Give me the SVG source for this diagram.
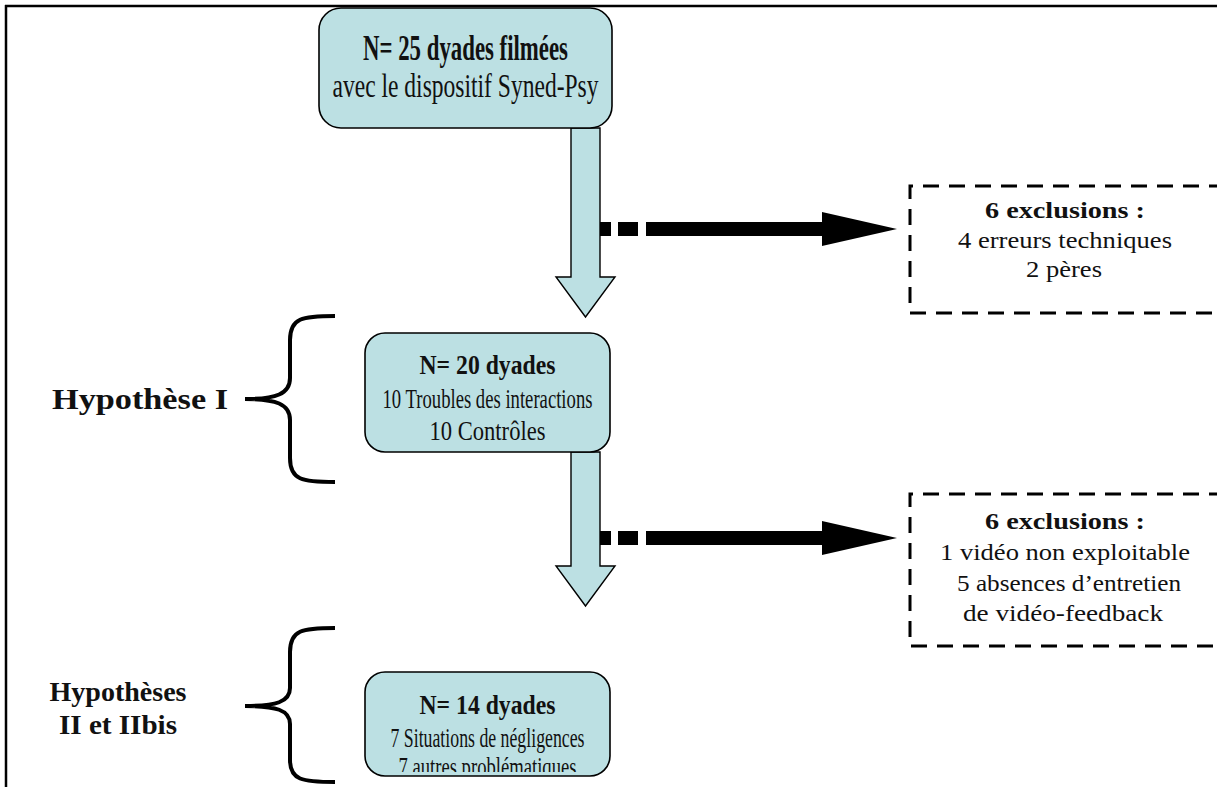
<svg xmlns="http://www.w3.org/2000/svg" width="1217" height="787" viewBox="0 0 1217 787">
<defs>
<style>
.box{fill:#BCE0E3;stroke:#000;stroke-width:1.6}
.shaft{fill:#BCE0E3;stroke:#000;stroke-width:1.4;stroke-linejoin:miter}
.dash{fill:#fff;stroke:#000;stroke-width:3;stroke-dasharray:16 10}
.brace{fill:none;stroke:#000;stroke-width:4;stroke-linecap:butt}
.t{font-family:"Liberation Serif","Times New Roman",serif;fill:#111;text-anchor:middle}
.b{font-weight:bold}
</style>
<clipPath id="clipBottom"><rect x="365" y="672" width="245" height="100"/></clipPath>
</defs>
<rect width="1217" height="787" fill="#fff"/>
<g id="frame" fill="none" stroke="#000" stroke-width="2.5">
<line x1="5" y1="6" x2="1217" y2="6"/>
<line x1="6" y1="5" x2="6" y2="787"/>
</g>
<g id="connectors">
<path class="shaft" d="M571,128 L600,128 L600,277 L615,277 L585.5,317 L556,277 L571,277 Z"/>
<path class="shaft" d="M571,452 L600,452 L600,566 L615,566 L585.5,606 L556,566 L571,566 Z"/>
<g fill="#000">
<rect x="600" y="222" width="11" height="14"/>
<rect x="618" y="222" width="20" height="14"/>
<rect x="646" y="222" width="178" height="14"/>
<polygon points="822,212 897,229 822,246"/>
<rect x="600" y="531" width="11" height="14"/>
<rect x="618" y="531" width="20" height="14"/>
<rect x="646" y="531" width="178" height="14"/>
<polygon points="822,521 897,538 822,555"/>
</g>
</g>
<g id="node-top">
<rect class="box" x="319" y="8" width="293" height="120" rx="22"/>
<text class="t b" x="465.5" y="60" font-size="36" textLength="205" lengthAdjust="spacingAndGlyphs">N= 25 dyades filmées</text>
<text class="t" x="465.5" y="97" font-size="34" textLength="266" lengthAdjust="spacingAndGlyphs">avec le dispositif Syned-Psy</text>
</g>
<g id="node-excl1">
<path class="dash" d="M1225,186 L910,186 L910,313 L1225,313"/>
<text class="t b" x="1065" y="218" font-size="24" textLength="160" lengthAdjust="spacingAndGlyphs">6 exclusions :</text>
<text class="t" x="1065" y="248" font-size="24" textLength="214" lengthAdjust="spacingAndGlyphs">4 erreurs techniques</text>
<text class="t" x="1064" y="277" font-size="24" textLength="76" lengthAdjust="spacingAndGlyphs">2 pères</text>
</g>
<g id="node-mid">
<rect class="box" x="365" y="333" width="245" height="119" rx="20"/>
<text class="t b" x="487.5" y="374" font-size="28" textLength="136" lengthAdjust="spacingAndGlyphs">N= 20 dyades</text>
<text class="t" x="487.5" y="408" font-size="27" textLength="210" lengthAdjust="spacingAndGlyphs">10 Troubles des interactions</text>
<text class="t" x="487.5" y="440" font-size="27" textLength="116" lengthAdjust="spacingAndGlyphs">10 Contrôles</text>
</g>
<g id="node-excl2">
<path class="dash" d="M1225,494 L910,494 L910,646 L1225,646"/>
<text class="t b" x="1065" y="529" font-size="24" textLength="160" lengthAdjust="spacingAndGlyphs">6 exclusions :</text>
<text class="t" x="1065" y="560" font-size="24" textLength="250" lengthAdjust="spacingAndGlyphs">1 vidéo non exploitable</text>
<text class="t" x="1069" y="591" font-size="24" textLength="224" lengthAdjust="spacingAndGlyphs">5 absences d’entretien</text>
<text class="t" x="1063" y="621" font-size="24" textLength="200" lengthAdjust="spacingAndGlyphs">de vidéo-feedback</text>
</g>
<g id="node-hyp1">
<path class="brace" d="M335,316 C302,316 290,318 290,340 L290,378 C290,394 276,399 245,399 C276,399 290,404 290,420 L290,458 C290,480 302,482 335,482"/>
<text class="t b" x="140" y="409" font-size="30" textLength="176" lengthAdjust="spacingAndGlyphs">Hypothèse I</text>
</g>
<g id="node-bottom">
<rect class="box" x="365" y="672" width="245" height="104" rx="20"/>
<text class="t b" x="487.5" y="714" font-size="28" textLength="136" lengthAdjust="spacingAndGlyphs">N= 14 dyades</text>
<text class="t" x="487.5" y="747" font-size="27" textLength="194" lengthAdjust="spacingAndGlyphs">7 Situations de négligences</text>
<text class="t" x="487.5" y="776" font-size="27" textLength="178" lengthAdjust="spacingAndGlyphs" clip-path="url(#clipBottom)">7 autres problématiques</text>
</g>
<g id="node-hyp2">
<path class="brace" d="M335,628 C302,628 290,630 290,652 L290,688 C290,702 276,706 245,706 C276,706 290,710 290,724 L290,760 C290,780 302,782 335,782"/>
<text class="t b" x="118" y="701" font-size="28" textLength="137" lengthAdjust="spacingAndGlyphs">Hypothèses</text>
<text class="t b" x="118" y="734" font-size="28" textLength="118" lengthAdjust="spacingAndGlyphs">II et IIbis</text>
</g>
</svg>
